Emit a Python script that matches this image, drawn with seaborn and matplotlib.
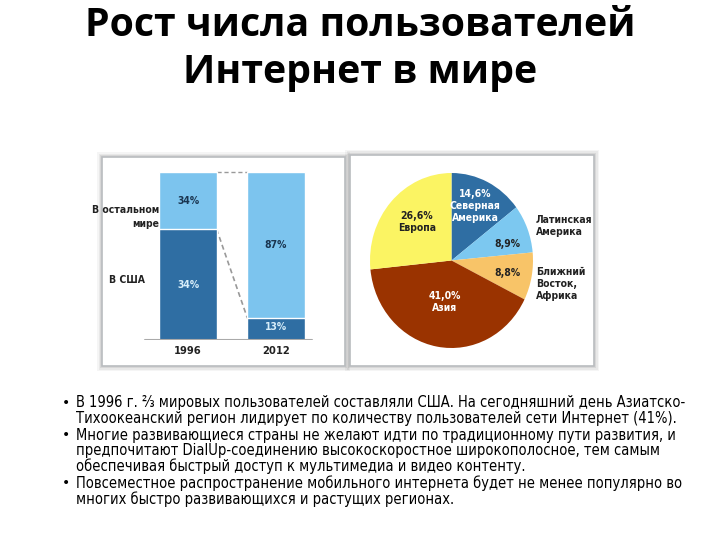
import matplotlib
matplotlib.use("Agg")
import matplotlib.pyplot as plt
import seaborn as sns
import pandas as pd
from matplotlib.patches import Rectangle
from matplotlib import font_manager

# ---------------- data ----------------
years = ["1996", "2012"]
usa_share = [66, 13]          # % of world users in USA (dark part)
total_share = [100, 100]
usa_labels = ["34%", "13%"]
rest_labels = ["34%", "87%"]

regions = ["Северная\nАмерика", "Латинская\nАмерика", "Ближний\nВосток,\nАфрика", "Азия", "Европа"]
region_values = [14.6, 8.9, 8.8, 41.0, 26.6]
region_pct = ["14,6%", "8,9%", "8,8%", "41,0%", "26,6%"]

title_lines = ["Рост числа пользователей", "Интернет в мире"]
bullets = [
    ["В 1996 г. ⅔ мировых пользователей составляли США. На сегодняшний день Азиатско-",
     "Тихоокеанский регион лидирует по количеству пользователей сети Интернет (41%)."],
    ["Многие развивающиеся страны не желают идти по традиционному пути развития, и",
     "предпочитают DialUp-соединению высокоскоростное широкополосное, тем самым",
     "обеспечивая быстрый доступ к мультимедиа и видео контенту."],
    ["Повсеместное распространение мобильного интернета будет не менее популярно во",
     "многих быстро развивающихся и растущих регионах."],
]

DARK = "#2f6ea3"
LIGHT = "#7cc4ee"
pie_colors = ["#2f6ea3", "#7cc8f0", "#f8c468", "#9a3300", "#fbf463"]

sns.set_theme(style="white")
plt.rcParams["font.family"] = ["DejaVu Sans"]
plt.rcParams["text.color"] = "black"
W, H = 720, 540
fig = plt.figure(figsize=(7.2, 5.4), dpi=100)
fig.patch.set_facecolor("white")

def fx(px):
    return px / W

def fy(py):
    return 1 - py / H

def ax_rect(x0, y0, x1, y1):
    return [fx(x0), fy(y1), fx(x1) - fx(x0), fy(y0) - fy(y1)]

# condensed font
cond_names = [f.name for f in font_manager.fontManager.ttflist]
if "Liberation Sans Narrow" in cond_names:
    COND = dict(family=["Liberation Sans Narrow", "DejaVu Sans"])
    CONDFP = dict(family=["Liberation Sans Narrow", "DejaVu Sans"])
else:
    COND = dict(family=["DejaVu Sans"], fontstretch="condensed")
    CONDFP = dict(family=["DejaVu Sans"], stretch="condensed")

# ---------------- title ----------------
for ty, tl in zip([25, 72], title_lines):
    fig.text(0.5, fy(ty), tl, ha="center", va="center", color="black",
             fontsize=28.3, fontweight="bold", family=["Open Sans", "DejaVu Sans"])

# ---------------- panel frames ----------------
def frame(x0, y0, x1, y1):
    for i, a in enumerate([0.04, 0.05, 0.07]):
        d = 5 - i * 1.5
        fig.patches.append(Rectangle((fx(x0 - d), fy(y1 + d)), fx(x1 - x0 + 2 * d), (y1 - y0 + 2 * d) / H,
                                     transform=fig.transFigure, facecolor="black", alpha=a,
                                     edgecolor="none", zorder=0))
    fig.patches.append(Rectangle((fx(x0), fy(y1)), fx(x1 - x0), (y1 - y0) / H,
                                 transform=fig.transFigure, facecolor="white",
                                 edgecolor="#b9bcbf", linewidth=1.2, zorder=0.5))

frame(102, 157, 345, 366)
frame(350, 155, 594, 366)

# ---------------- bar chart ----------------
axb = fig.add_axes(ax_rect(104, 160, 343, 340))
axb.set_zorder(3)
axb.set_facecolor("none")
df = pd.DataFrame({"year": years, "usa": usa_share, "total": total_share})
bw = 0.65
sns.barplot(data=df, x="year", y="total", color=LIGHT, saturation=1, width=bw, ax=axb, zorder=2)
sns.barplot(data=df, x="year", y="usa", color=DARK, saturation=1, width=bw, ax=axb, zorder=3)
px_per_unit = 88
axb.set_xlim(-(188 - 104) / px_per_unit, (343 - 188) / px_per_unit)
axb.set_ylim(0, 100 * 180 / 168)
for s in axb.spines.values():
    s.set_visible(False)
axb.set_ylabel("")
axb.set_xlabel("")
axb.set_yticks([])
axb.tick_params(axis="x", length=0, pad=4)
for lab in axb.get_xticklabels():
    lab.set_fontproperties(font_manager.FontProperties(weight="bold", size=8, **CONDFP))
    lab.set_color("#222222")
axb.axhline(0, xmin=(145 - 104) / 239, xmax=(312 - 104) / 239, color="#aaaaaa", lw=1.5, zorder=4)
# connectors
axb.plot([bw / 2, 1 - bw / 2], [total_share[0], total_share[1]], ls=(0, (3, 2)), color="#999999", lw=1, zorder=1)
axb.plot([bw / 2, 1 - bw / 2], [usa_share[0], usa_share[1]], ls=(0, (3, 2)), color="#999999", lw=1.2, zorder=1)
for i in range(2):
    axb.text(i, usa_share[i] / 2 + (1 if i else 0), usa_labels[i], ha="center", va="center",
             color="#d8eefa", fontsize=7.5, fontweight="bold", zorder=5, **COND)
    axb.text(i, (usa_share[i] + total_share[i]) / 2, rest_labels[i], ha="center", va="center",
             color="#1a3550", fontsize=7.5, fontweight="bold", zorder=5, **COND)
fig.text(fx(159), fy(217), "В остальном\nмире", ha="right", va="center", fontsize=7.5,
         fontweight="bold", color="#222222", linespacing=1.5, **COND)
fig.text(fx(145), fy(280), "В США", ha="right", va="center", fontsize=7.5,
         fontweight="bold", color="#222222", **COND)

# ---------------- pie chart ----------------
axp = fig.add_axes(ax_rect(370, 173, 533, 348))
axp.set_zorder(3)
axp.set_facecolor("none")
wedges, _ = axp.pie(region_values, colors=pie_colors, startangle=90, counterclock=False,
                    wedgeprops=dict(edgecolor="none"))
axp.set_aspect("auto")
axp.set_xlim(-1, 1)
axp.set_ylim(-1, 1)
axp.axis("off")

def ptext(x, y, s, color, ha="center"):
    t = fig.text(fx(x), fy(y), s, ha=ha, va="center", fontsize=7.5, fontweight="bold",
                 color=color, linespacing=1.25, **COND)
    t.set_zorder(5)

ptext(475, 206, region_pct[0] + "\n" + regions[0], "white")
ptext(536, 226, regions[1], "#222222", ha="left")
ptext(507, 244, region_pct[1], "#222222")
ptext(507, 273, region_pct[2], "#222222")
ptext(536, 284, regions[2], "#222222", ha="left")
ptext(445, 302, region_pct[3] + "\n" + regions[3], "white")
ptext(417, 222, region_pct[4] + "\n" + regions[4], "#222222")

# ---------------- bullets ----------------
y = 403
line_h = 15.5
for b in bullets:
    fig.text(fx(62), fy(y), "•", ha="left", va="center", fontsize=10, color="black")
    for ln in b:
        fig.text(fx(76), fy(y), ln, ha="left", va="center", fontsize=10.5, color="black", **COND)
        y += line_h
    y += 1.5

fig.savefig("out.png", dpi=100)
